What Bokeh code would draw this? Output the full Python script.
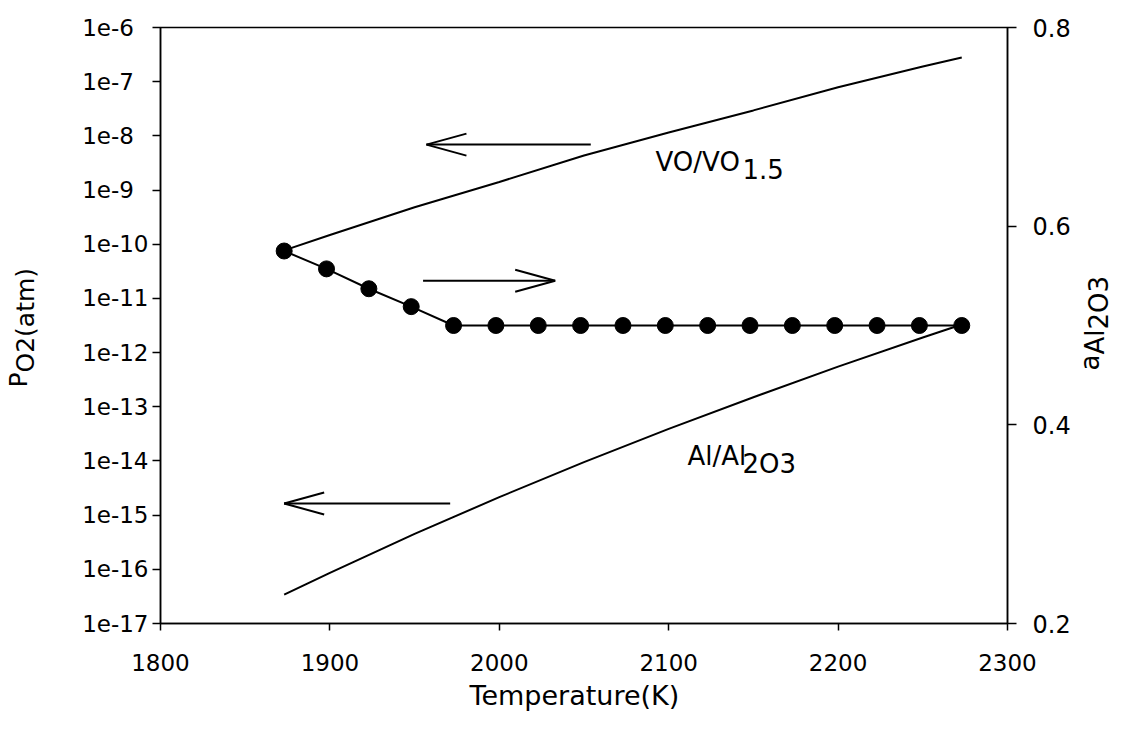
import math
from bokeh.plotting import figure
from bokeh.models import Range1d, LinearAxis, LinearScale, FixedTicker, CustomJSTickFormatter
from bokeh.core.properties import value
from bokeh.embed import file_html
from bokeh.resources import INLINE

# ---------------- data ----------------
temp_curve = [1873, 1900, 1950, 2000, 2050, 2100, 2150, 2200, 2250, 2273]
po2_vo_vo15 = [7.7e-11, 1.48e-10, 4.8e-10, 1.41e-9, 4.35e-9, 1.15e-8, 2.95e-8, 7.9e-8, 1.9e-7, 2.8e-7]
po2_al_al2o3 = [3.4e-17, 8.6e-17, 4.5e-16, 2.15e-15, 9.5e-15, 3.9e-14, 1.5e-13, 5.5e-13, 1.9e-12, 3.3e-12]

temp_points = [1873, 1898, 1923, 1948, 1973, 1998, 2023, 2048, 2073,
               2098, 2123, 2148, 2173, 2198, 2223, 2248, 2273]
a_al2o3 = [0.575, 0.557, 0.537, 0.519, 0.500, 0.500, 0.500, 0.500, 0.500,
           0.500, 0.500, 0.500, 0.500, 0.500, 0.500, 0.500, 0.500]

x_ticks = [1800, 1900, 2000, 2100, 2200, 2300]
left_ticks = [1e-17, 1e-16, 1e-15, 1e-14, 1e-13, 1e-12, 1e-11, 1e-10, 1e-9, 1e-8, 1e-7, 1e-6]
right_ticks = [0.2, 0.4, 0.6, 0.8]

# arrows: (axis, T tail, T tip, value)
arrow_specs = [("log", 2054, 1957, 6.9e-9),
               ("a", 1955, 2033, 0.545),
               ("log", 1971, 1873, 1.64e-15)]

FONT = "DejaVu Sans"
FW, FH = 847, 596
LEFT, TOP = 160, 27
W, H = 1116, 713
X0, X1 = 1800, 2300
Y0, Y1 = 1e-17, 1e-6
A0, A1 = 0.2, 0.8

p = figure(x_range=Range1d(X0, X1), y_range=Range1d(Y0, Y1), y_axis_type="log",
           frame_width=FW, frame_height=FH,
           min_border_left=LEFT, min_border_right=W - LEFT - FW,
           min_border_top=TOP, min_border_bottom=H - TOP - FH,
           output_backend="svg", toolbar_location=None, title=None,
           background_fill_color="white", border_fill_color="white")
p.extra_y_ranges = {"a": Range1d(A0, A1)}
p.extra_y_scales = {"a": LinearScale()}
p.add_layout(LinearAxis(y_range_name="a"), "right")

p.grid.visible = False
p.outline_line_color = "black"
p.outline_line_width = 1.5

p.xaxis.ticker = FixedTicker(ticks=x_ticks)
p.yaxis[0].ticker = FixedTicker(ticks=left_ticks)
p.yaxis[1].ticker = FixedTicker(ticks=right_ticks)
p.yaxis[0].formatter = CustomJSTickFormatter(code="""
const e = Math.round(Math.log10(tick));
return "1e" + e + (e > -10 ? "\\u00a0\\u00a0" : "");
""")

for ax in [p.xaxis[0], p.yaxis[0], p.yaxis[1]]:
    ax.axis_line_color = "black"
    ax.axis_line_width = 1.5
    ax.major_tick_line_color = "black"
    ax.major_tick_line_width = 1.5
    ax.major_tick_in = 0
    ax.major_tick_out = 8
    ax.minor_tick_line_color = None
    ax.major_label_text_font = FONT
    ax.major_label_text_color = "black"

p.xaxis[0].major_label_text_font_size = "23px"
p.xaxis[0].major_tick_out = 7
p.xaxis[0].major_label_standoff = 23
p.yaxis[0].major_label_text_font_size = "23px"
p.yaxis[0].major_label_standoff = 4
p.yaxis[1].major_label_text_font_size = "24px"
p.yaxis[1].major_tick_out = 9
p.yaxis[1].major_label_standoff = 16

# ---------------- series ----------------
p.line(temp_curve, po2_vo_vo15, line_color="black", line_width=2)
p.line(temp_curve, po2_al_al2o3, line_color="black", line_width=2)
p.line(temp_points, a_al2o3, y_range_name="a", line_color="black", line_width=2)
p.scatter(temp_points, a_al2o3, y_range_name="a", size=16, marker="circle",
          fill_color="black", line_color="black")

# ---------------- arrows ----------------
kx = FW / (X1 - X0)
k_log = FH / (math.log10(Y1) - math.log10(Y0))
k_a = FH / (A1 - A0)
HEAD_LEN, HEAD_HALF = 40, 11
for axis, t_tail, t_tip, v in arrow_specs:
    d = 1 if t_tip > t_tail else -1
    back = t_tip - d * HEAD_LEN / kx
    if axis == "log":
        up, dn = v * 10 ** (HEAD_HALF / k_log), v * 10 ** (-HEAD_HALF / k_log)
        kw = {}
    else:
        up, dn = v + HEAD_HALF / k_a, v - HEAD_HALF / k_a
        kw = {"y_range_name": "a"}
    p.segment(x0=[t_tail, t_tip, t_tip], y0=[v, v, v], x1=[t_tip, back, back], y1=[v, up, dn],
              line_color="black", line_width=2, **kw)


# ---------------- texts (px, py = wanted baseline start in picture pixels) ----------------
def put(txt, px, py, size, angle=0.0):
    shift = 0.43 * size          # measured offset of the rendered baseline
    if angle:
        px -= shift
    else:
        py -= shift
    t = X0 + (px - LEFT) / kx
    y = 10 ** (math.log10(Y1) - (py - TOP) / k_log)
    p.text(x=[t], y=[y], text=[txt], angle=angle,
           text_font=value(FONT), text_font_size=value(f"{size}px"),
           text_color="black", text_align="left", text_baseline="alphabetic",
           level="overlay")


put("VO/VO", 655, 173, 26)
put("1.5", 742, 180, 26)
put("Al/Al", 687, 467, 26)
put("2O3", 742, 475, 26)
put("Temperature(K)", 469, 707, 27)

R = math.pi / 2
put("P", 29, 387, 25, R)
put("O2(atm)", 36, 372, 25, R)

put("a", 1101, 370, 26, R)
put("Al", 1106, 354, 26, R)
put("2O3", 1110, 329, 26, R)

open("out.html", "w").write(file_html(p, INLINE))
